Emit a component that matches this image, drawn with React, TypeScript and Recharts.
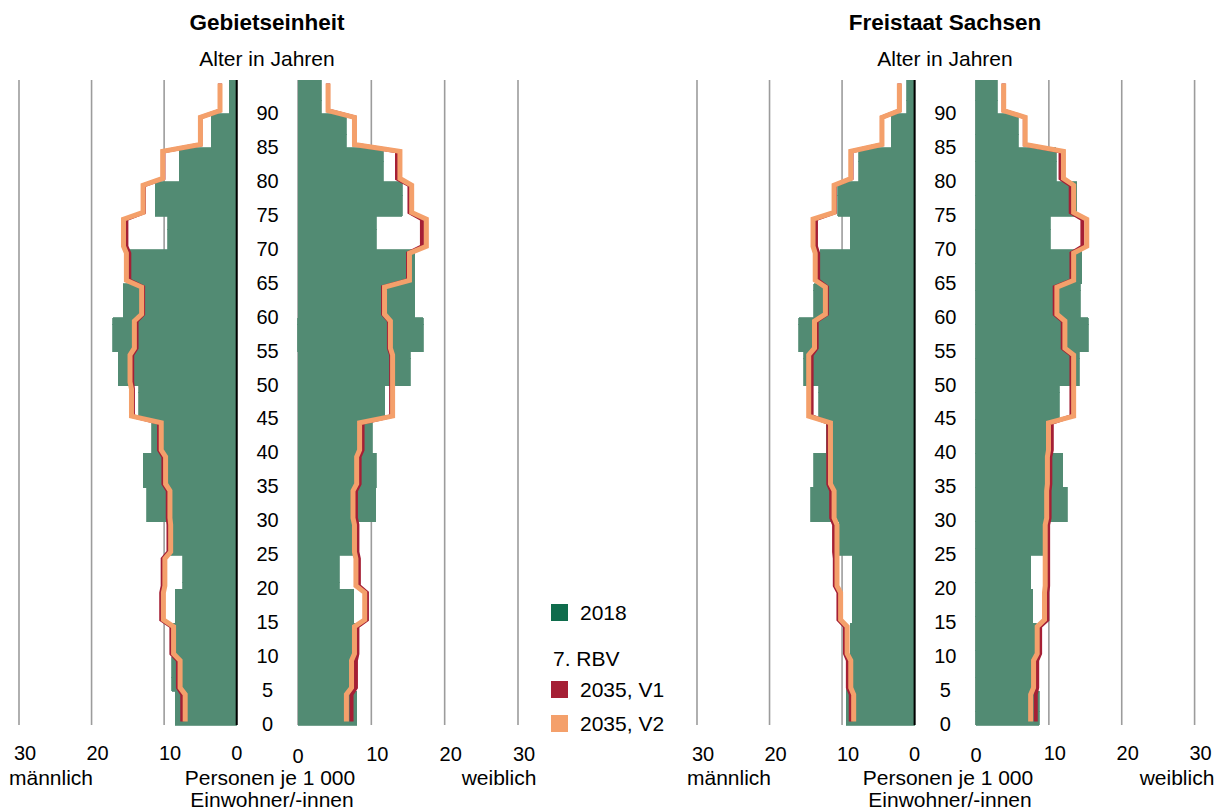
import React from 'react';
import { ComposedChart, Bar, Line, XAxis, YAxis, CartesianGrid } from 'recharts';

const FONT = '"Liberation Sans", Arial, Helvetica, sans-serif';
const GREEN = '#528b73';
const GREEN_LEGEND = '#0f6c4c';
const RED = '#a51f35';
const ORANGE = '#f4a06b';
const GRID = '#9c9c9c';

// 5-year age groups 0-4 ... 90-94, each value in persons per 1 000 inhabitants
const ageGroups = [
  '0-4', '5-9', '10-14', '15-19', '20-24', '25-29', '30-34', '35-39', '40-44', '45-49',
  '50-54', '55-59', '60-64', '65-69', '70-74', '75-79', '80-84', '85-89', '90-94',
];
const ageTicks = [0, 5, 10, 15, 20, 25, 30, 35, 40, 45, 50, 55, 60, 65, 70, 75, 80, 85, 90];
const valueTicks = [0, 10, 20, 30];

// Gebietseinheit
const gebietMale2018 = [8.5, 8.95, 8.8, 8.5, 7.4, 9.6, 12.4, 12.9, 11.7, 13.5, 16.3, 17.1, 15.6, 14.8, 9.5, 11.25, 7.9, 3.5, 1.0];
const gebietMaleV1 = [7.5, 8.1, 9.0, 10.4, 10.2, 9.4, 9.5, 10.1, 10.7, 14.3, 14.4, 13.8, 12.9, 14.8, 15.2, 12.8, 10.1, 5.0, 2.3];
const gebietMaleV2 = [7.1, 7.8, 8.7, 10.1, 9.9, 9.1, 9.2, 9.8, 10.4, 14.5, 14.7, 14.1, 13.1, 15.2, 15.6, 12.9, 10.2, 5.0, 2.3];
const gebietFemale2018 = [8.0, 7.7, 8.0, 7.6, 5.6, 8.0, 10.6, 10.7, 10.1, 11.8, 15.3, 17.1, 15.9, 15.9, 10.7, 14.2, 11.6, 6.6, 3.2];
const gebietFemaleV1 = [7.3, 7.9, 8.1, 9.4, 8.3, 8.1, 7.9, 8.4, 8.8, 12.7, 12.7, 12.4, 11.6, 15.0, 16.9, 15.2, 13.5, 7.7, 4.1];
const gebietFemaleV2 = [6.6, 7.3, 7.7, 9.1, 7.9, 7.7, 7.5, 8.0, 8.4, 12.9, 12.9, 12.6, 11.8, 15.2, 17.5, 15.5, 13.9, 7.7, 4.1];

// Freistaat Sachsen
const sachsenMale2018 = [9.45, 9.4, 8.9, 8.6, 8.6, 10.4, 14.3, 13.9, 12.2, 13.2, 15.3, 16.0, 13.9, 13.0, 8.9, 10.6, 7.7, 3.2, 1.05];
const sachsenMaleV1 = [8.8, 9.2, 9.6, 10.5, 11.0, 11.1, 11.5, 11.9, 11.9, 14.2, 14.2, 13.5, 12.1, 13.3, 13.6, 11.0, 8.7, 4.5, 2.1];
const sachsenMaleV2 = [8.4, 8.8, 9.3, 10.2, 10.7, 10.7, 11.1, 11.6, 11.6, 14.6, 14.6, 13.8, 12.3, 13.7, 14.0, 11.1, 8.8, 4.5, 2.1];
const sachsenFemale2018 = [8.7, 8.2, 8.3, 7.8, 7.5, 9.7, 12.5, 11.9, 10.5, 11.4, 14.2, 15.4, 14.3, 14.5, 10.2, 13.8, 11.0, 5.8, 2.9];
const sachsenFemaleV1 = [8.2, 8.4, 8.8, 9.8, 9.9, 9.9, 10.1, 10.2, 10.4, 13.1, 13.1, 11.9, 10.8, 13.1, 14.6, 13.0, 11.6, 6.7, 3.8];
const sachsenFemaleV2 = [7.5, 7.9, 8.4, 9.4, 9.5, 9.5, 9.7, 9.8, 9.95, 13.4, 13.4, 12.2, 11.1, 13.4, 15.2, 13.4, 12.0, 6.75, 3.8];

// every single year of age gets the value of its 5-year group
const rows = (base, v1, v2) => {
  const out = [];
  ageGroups.forEach((g, gi) => {
    for (let k = 0; k < 5; k++) {
      out.push({ age: gi * 5 + k, base: base[gi], v1: v1[gi], v2: v2[gi] });
    }
  });
  return out;
};

const PLOT_TOP = 80;
const PLOT_H = 645;
const X_AXIS_H = 50;
const PAD = 22; // room for the outer tick labels

const AgeTick = (props) => {
  const { x, y, payload, gap } = props;
  if (!ageTicks.includes(payload.value)) return <g />;
  return (
    <text x={x + gap / 2} y={y + 2.4} textAnchor='middle' dy='0.35em' fontSize={20} fontFamily={FONT} fill='#000'>
      {payload.value}
    </text>
  );
};

const ValueTick = (props) => {
  const { x, y, payload, male } = props;
  const dx = payload.value >= 10 ? 6 : 0;
  const dy = !male && payload.value === 0 ? 30.5 : 28.5;
  return (
    <text x={x + dx} y={y + dy} textAnchor='middle' dy='0.35em' fontSize={20} fontFamily={FONT} fill='#000'>
      {payload.value}
    </text>
  );
};

const Half = ({ data, male, plotLeft, plotWidth, gap }) => {
  const axisW = male ? gap : 0;
  const margin = male
    ? { top: 0, right: 0, bottom: 0, left: PAD }
    : { top: 0, right: PAD, bottom: 0, left: PAD };
  return (
    <div style={{ position: 'absolute', left: plotLeft - PAD, top: PLOT_TOP }}>
      <ComposedChart
        layout='vertical'
        width={plotWidth + axisW + PAD + (male ? 0 : PAD)}
        height={PLOT_H + X_AXIS_H}
        data={data}
        margin={margin}
        barCategoryGap={0}
        barGap={0}
      >
        <CartesianGrid horizontal={false} stroke={GRID} strokeWidth={1.6} />
        <XAxis
          type='number'
          domain={[0, 30]}
          ticks={valueTicks}
          reversed={male}
          interval={0}
          axisLine={false}
          tickLine={false}
          tickSize={0}
          tickMargin={0}
          height={X_AXIS_H}
          tick={<ValueTick male={male} />}
        />
        <YAxis
          type='category'
          dataKey='age'
          reversed
          orientation={male ? 'right' : 'left'}
          width={axisW}
          interval={0}
          tickLine={false}
          tickSize={0}
          tickMargin={0}
          axisLine={{ stroke: '#000', strokeWidth: 2 }}
          tick={male ? <AgeTick gap={gap} /> : false}
        />
        <Bar dataKey='base' fill={GREEN} stroke={GREEN} strokeWidth={0.8} shapeRendering='crispEdges' isAnimationActive={false} />
        <Line type='linear' dataKey='v1' stroke={RED} strokeWidth={4} dot={false} isAnimationActive={false} />
        <Line type='linear' dataKey='v2' stroke={ORANGE} strokeWidth={5} dot={false} isAnimationActive={false} />
      </ComposedChart>
    </div>
  );
};

const T = ({ x, y, children, bold = false, anchor = 'middle', size = 21 }) => (
  <text x={x} y={y} dy='0.35em' textAnchor={anchor} fontSize={size} fontWeight={bold ? 'bold' : 'normal'} fontFamily={FONT} fill='#000'>
    {children}
  </text>
);

export default function App() {
  const gebiet = { m: rows(gebietMale2018, gebietMaleV1, gebietMaleV2), f: rows(gebietFemale2018, gebietFemaleV1, gebietFemaleV2) };
  const sachsen = { m: rows(sachsenMale2018, sachsenMaleV1, sachsenMaleV2), f: rows(sachsenFemale2018, sachsenFemaleV1, sachsenFemaleV2) };

  return (
    <div style={{ position: 'absolute', left: 0, top: 0, width: 1224, height: 812, background: '#fff', fontFamily: FONT }}>
      <svg width={1224} height={812} style={{ position: 'absolute', left: 0, top: 0 }}>
        <T x={267} y={22} bold size={22.5}>Gebietseinheit</T>
        <T x={267} y={59}>Alter in Jahren</T>
        <T x={945} y={22} bold size={22.5}>Freistaat Sachsen</T>
        <T x={945} y={59}>Alter in Jahren</T>

        <T x={51} y={778}>männlich</T>
        <T x={270} y={778}>Personen je 1 000</T>
        <T x={272} y={800}>Einwohner/-innen</T>
        <T x={499} y={778}>weiblich</T>

        <T x={729} y={778}>männlich</T>
        <T x={948} y={778}>Personen je 1 000</T>
        <T x={950} y={800}>Einwohner/-innen</T>
        <T x={1177} y={778}>weiblich</T>

        <rect x={551} y={604} width={17} height={17} fill={GREEN_LEGEND} />
        <T x={580} y={613} anchor='start'>2018</T>
        <T x={553} y={659} anchor='start'>7. RBV</T>
        <rect x={551} y={681} width={17} height={17} fill={RED} />
        <T x={580} y={690} anchor='start'>2035, V1</T>
        <rect x={551} y={715} width={17} height={17} fill={ORANGE} />
        <T x={580} y={724} anchor='start'>2035, V2</T>
      </svg>

      <Half data={gebiet.m} male plotLeft={19} plotWidth={217.7} gap={61.6} />
      <Half data={gebiet.f} male={false} plotLeft={298.3} plotWidth={220} gap={0} />
      <Half data={sachsen.m} male plotLeft={696.7} plotWidth={217.6} gap={61.4} />
      <Half data={sachsen.f} male={false} plotLeft={975.7} plotWidth={218.6} gap={0} />
    </div>
  );
}
